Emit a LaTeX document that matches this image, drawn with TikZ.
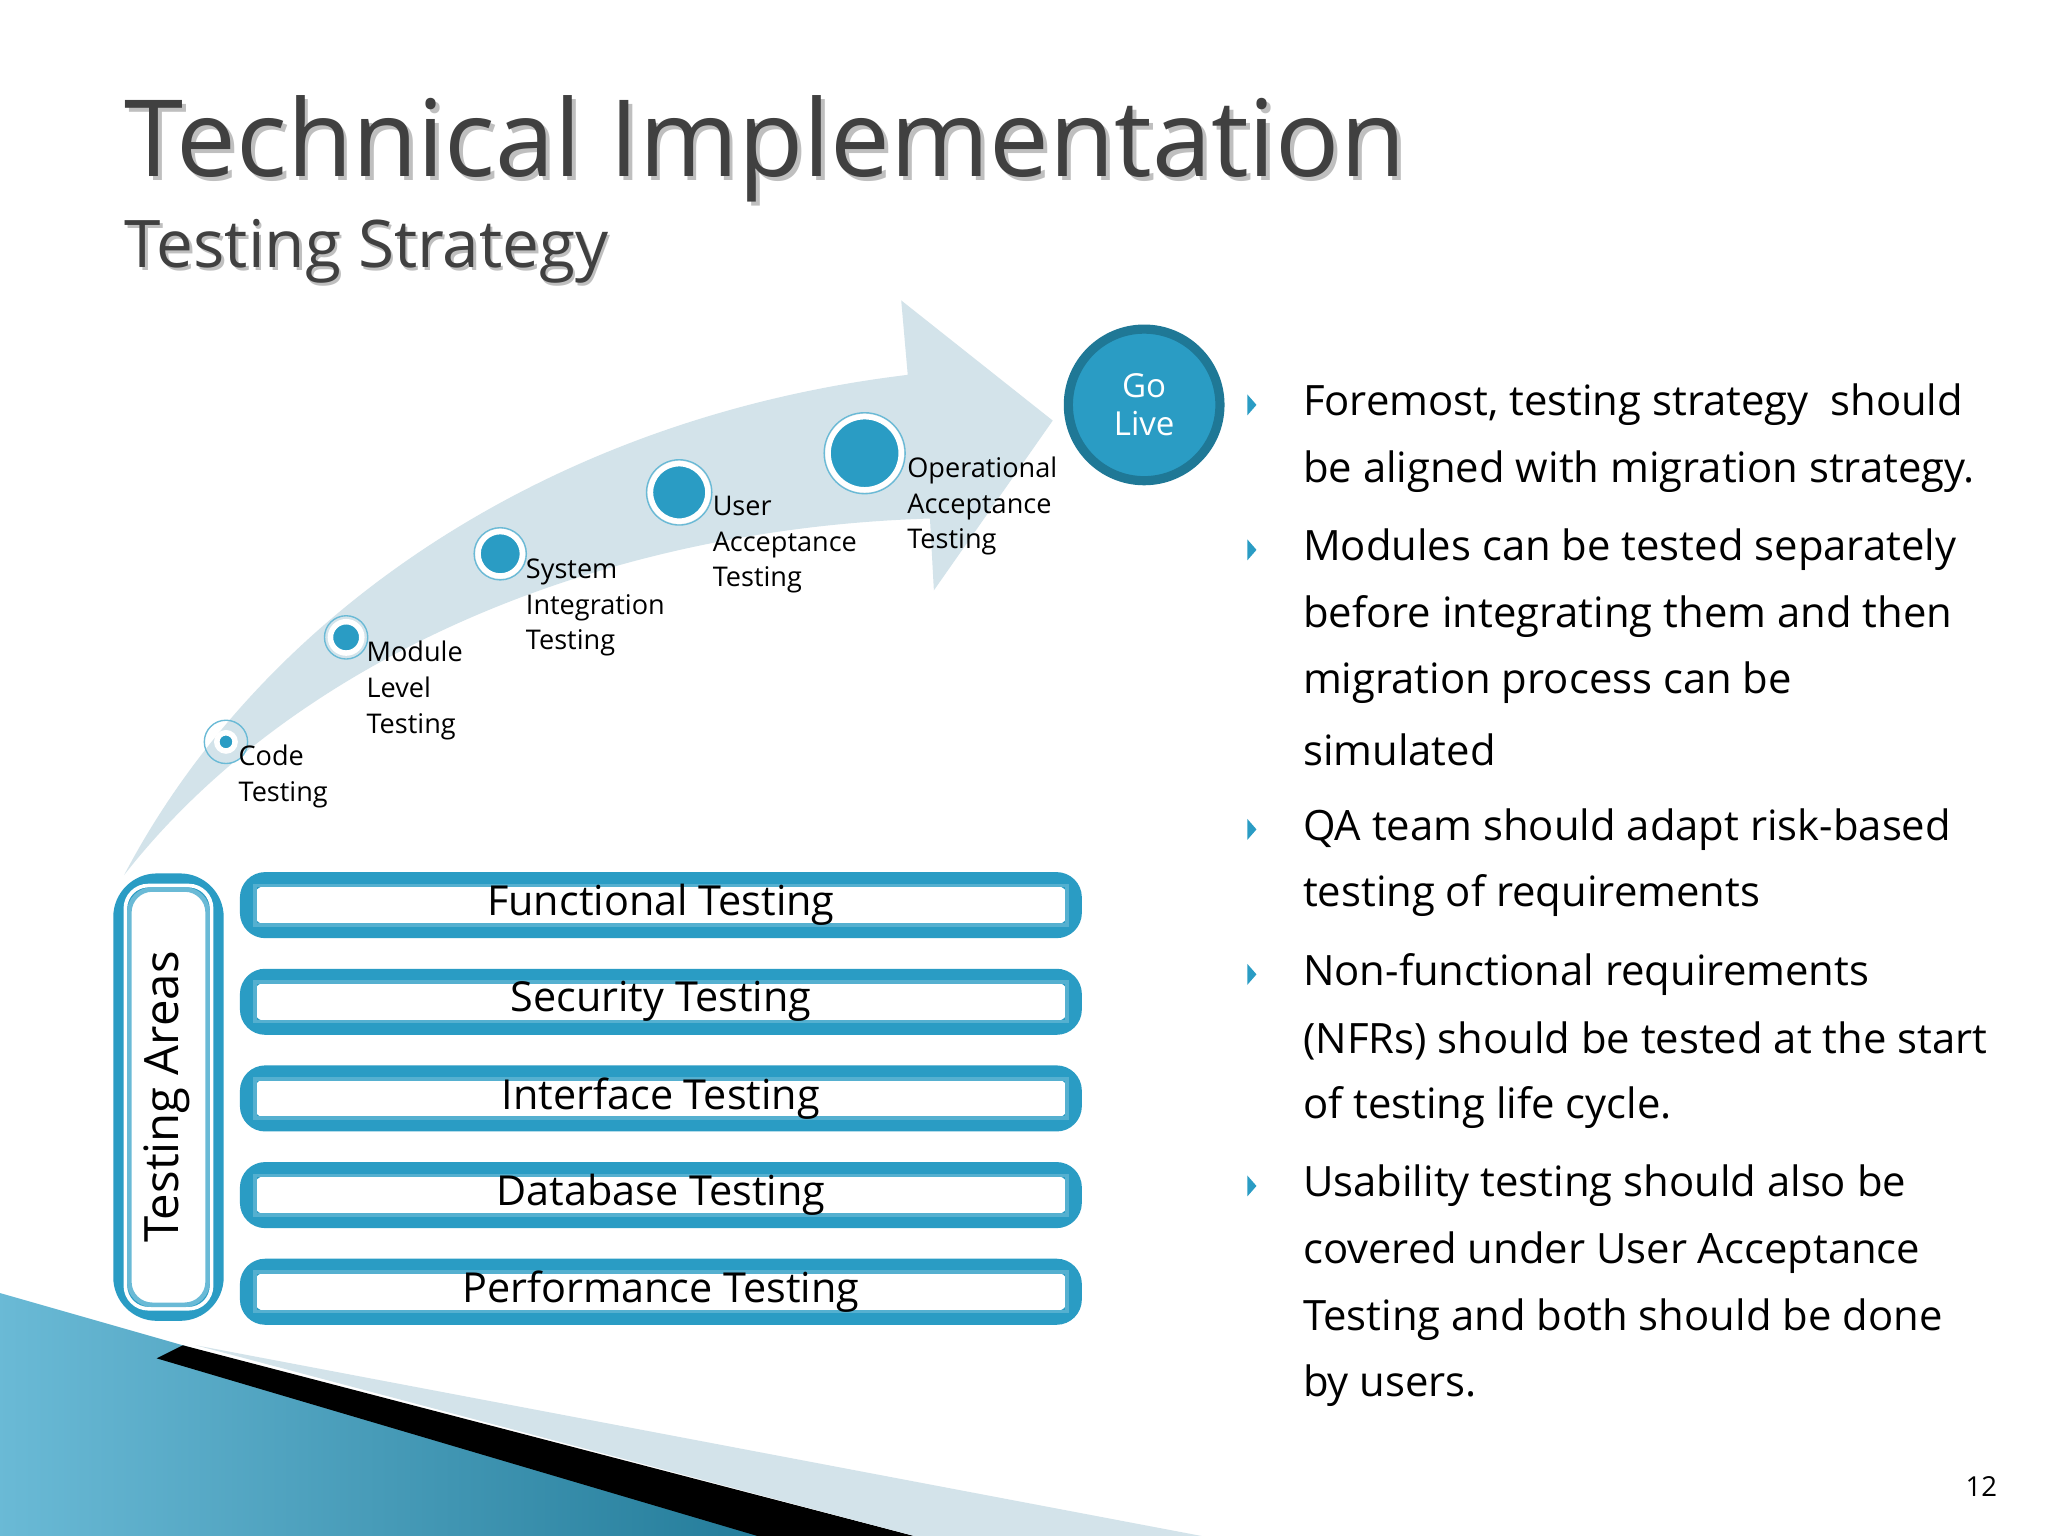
\documentclass[tikz,border=0pt]{standalone}
\usepackage{fontspec}
\setmainfont{Open Sans}
\newfontfamily\titlefont{Open Sans}
\usetikzlibrary{shadings}
\definecolor{teal}{HTML}{2A9CC4}
\definecolor{tealdk}{HTML}{1F7896}
\definecolor{arrowc}{HTML}{D3E3EA}
\definecolor{ttl}{HTML}{404040}
\tikzset{
 bul/.style={anchor=west,font=\fontsize{9.1}{11}\selectfont,inner sep=0},
 lab/.style={anchor=north west,align=left,font=\fontsize{5.9}{7.8}\selectfont,inner sep=0},
 dot/.style={circle,fill=teal,draw=white,line width=1.2pt},
 ring/.style={circle,draw=teal!70,line width=0.3pt},
}
\begin{document}
\begin{tikzpicture}[x=0.01cm,y=-0.01cm]
\useasboundingbox (0,0) rectangle (1568,1176);
\fill[white] (0,0) rectangle (1568,1176);
% title
\node[anchor=base west,inner sep=0,text=black!25,font=\titlefont\fontsize{23.2}{27}\selectfont] at (98,138) {Technical Implementation};
\node[anchor=base west,inner sep=0,text=ttl,font=\titlefont\fontsize{23.2}{27}\selectfont] (title) at (95,135) {Technical Implementation};
\node[anchor=base west,inner sep=0,text=black!25,font=\titlefont\fontsize{14.3}{17}\selectfont] at (97,207) {Testing Strategy};
\node[anchor=base west,inner sep=0,text=ttl,font=\titlefont\fontsize{14.3}{17}\selectfont] (sub) at (95,205) {Testing Strategy};
% bottom decoration
\shade[left color=teal!70!white,right color=tealdk] (0,990) -- (0,1176) -- (620,1176) -- (140,1030) -- cycle;
\fill[black] (140,1030) -- (700,1176) -- (580,1176) -- (120,1040) -- cycle;
\fill[arrowc] (150,1030) -- (920,1176) -- (700,1176) -- cycle;
% big arrow
\fill[arrowc] (95,670) .. controls (200,470) and (420,320) .. (695,287) -- (690,230) -- (806,322) -- (715,452) -- (712,397) .. controls (450,405) and (220,510) .. (95,670) -- cycle;
% stage dots
\foreach \n/\x/\y/\r in {c/173/568/7,m/265/488/12,s/383/424/17,u/520/377/22,o/662/347/28}{
  \node[ring,minimum size={(2*\r+6)*0.01cm}] at (\x,\y) {};
  \node[dot,minimum size={2*\r*0.01cm},inner sep=0] (\n) at (\x,\y) {};
}
\node[lab] (cl) at (182,570) {Code\\Testing};
\node[lab] (ml) at (280,490) {Module\\Level\\Testing};
\node[lab] (sl) at (402,427) {System\\Integration\\Testing};
\node[lab] (ul) at (545,379) {User\\Acceptance\\Testing};
\node[lab] (ol) at (694,349) {Operational\\Acceptance\\Testing};
% go live
\node[circle,fill=teal,draw=tealdk,line width=2pt,minimum size=1.16cm,align=center,text=white,font=\fontsize{7.2}{8.4}\selectfont] (go) at (876,310) {Go\\Live};
% testing areas
\draw[teal,line width=3pt,rounded corners=8pt] (92,674) rectangle (166,1006);
\draw[white,line width=0.8pt,rounded corners=5pt] (96,678) rectangle (162,1002);
\draw[teal!70,line width=1pt,rounded corners=5pt] (99,681) rectangle (159,999);
\node[rotate=90,font=\fontsize{10.3}{12}\selectfont] (ta) at (128,840) {Testing Areas};
\foreach \n/\y/\t in {f/693/Functional Testing,se/767/Security Testing,i/841/Interface Testing,d/915/Database Testing,p/989/Performance Testing}{
  \draw[teal,line width=3pt,rounded corners=4pt] (189,\y-20) rectangle (823,\y+20);
  \draw[teal!80,line width=0.8pt] (195,\y-15) rectangle (817,\y+15);
  \node[inner sep=0,font=\fontsize{9}{10}\selectfont] (\n) at (506,\y) {\t};
}
% bullets
\foreach \y in {310,421,635,746,908}{
  \fill[teal] (955,\y-8) -- (962,\y) -- (955,\y+8) -- cycle;
}
\node[bul] (b1) at (997,310) {Foremost, testing strategy\ \ should};
\node[bul] at (997,361) {be aligned with migration strategy.};
\node[bul] (b2) at (997,421) {Modules can be tested separately};
\node[bul] at (997,472) {before integrating them and then};
\node[bul] at (997,523) {migration process can be};
\node[bul] at (997,574) {simulated};
\node[bul] (b3) at (997,635) {QA team should adapt risk-based};
\node[bul] at (997,686) {testing of requirements};
\node[bul] (b4) at (997,746) {Non-functional requirements};
\node[bul] at (997,797) {(NFRs) should be tested at the start};
\node[bul] at (997,848) {of testing life cycle.};
\node[bul] (b5) at (997,908) {Usability testing should also be};
\node[bul] at (997,959) {covered under User Acceptance};
\node[bul] at (997,1010) {Testing and both should be done};
\node[bul] at (997,1061) {by users.};
\node[inner sep=0,font=\fontsize{6}{7}\selectfont] (pg) at (1517,1138) {12};
\end{tikzpicture}
\end{document}
